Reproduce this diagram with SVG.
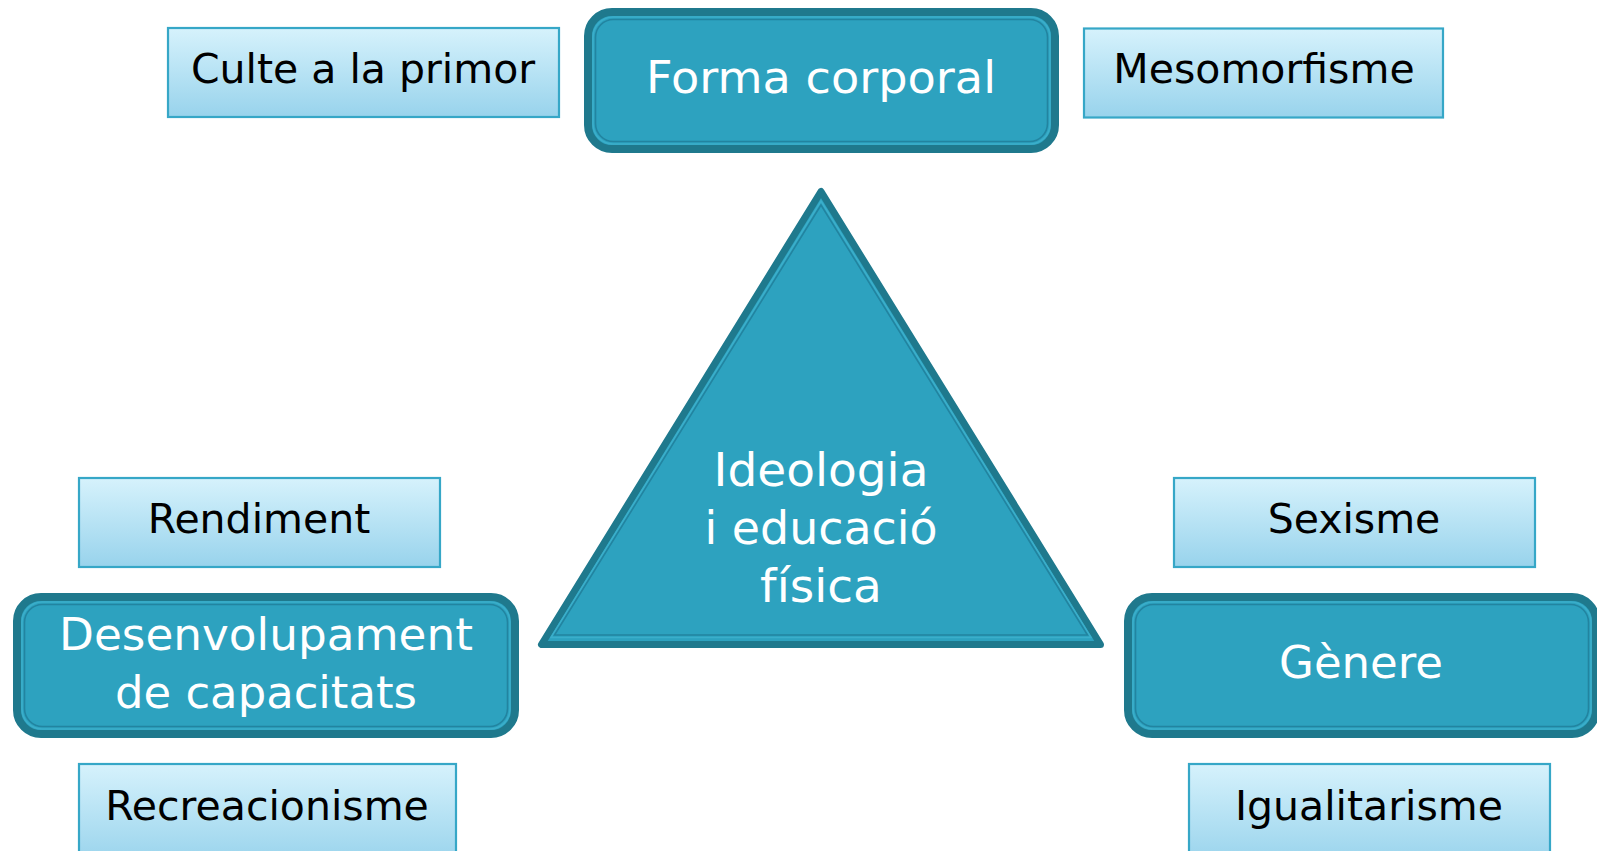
<svg xmlns="http://www.w3.org/2000/svg" width="1597" height="851" viewBox="0 0 1597 851">
<defs>
<linearGradient id="lg" x1="0" y1="0" x2="0" y2="1">
<stop offset="0" stop-color="#D6F2FC"/>
<stop offset="1" stop-color="#98D3EC"/>
</linearGradient>
<style>
.light{fill:url(#lg);stroke:#36A7C7;stroke-width:2.2}
.lt{font-family:"DejaVu Sans",Verdana,sans-serif;font-size:41px;fill:#000;text-anchor:middle}
.dark{fill:#2DA2BF;stroke:#1F798D;stroke-width:8}
.band{fill:none;stroke:#3BAECA;stroke-width:1.6}
.inner{fill:none;stroke:#2284A0;stroke-width:1.6}
.dt{font-family:"DejaVu Sans",Verdana,sans-serif;font-size:45px;fill:#FFFFFF;text-anchor:middle}
</style>
</defs>
<rect width="1597" height="851" fill="#FFFFFF"/>
<g id="connectors"></g>

<g id="node-center">
<polygon points="821,191.5 541.5,644.5 1100.5,644.5" fill="#2DA2BF" stroke="#1F798D" stroke-width="7" stroke-linejoin="round"/>
<polygon points="821,201 551,637.5 1091,637.5" class="band"/>
<polygon points="821,205 554.5,635 1087.5,635" class="inner"/>
<text class="dt" style="font-size:47px" x="821" y="486">Ideologia</text>
<text class="dt" style="font-size:47px" x="821" y="544" textLength="233" lengthAdjust="spacingAndGlyphs">i educació</text>
<text class="dt" style="font-size:47px" x="821" y="602">física</text>
</g>

<g id="node-forma">
<rect class="dark" x="588" y="12" width="467" height="137" rx="24"/>
<rect class="band" x="593" y="17" width="457" height="127" rx="20"/>
<rect class="inner" x="595.5" y="19.5" width="452" height="122" rx="18"/>
<text class="dt" x="821" y="93" textLength="350" lengthAdjust="spacingAndGlyphs">Forma corporal</text>
</g>

<g id="node-desenvolupament">
<rect class="dark" x="17" y="597" width="498" height="137" rx="24"/>
<rect class="band" x="22" y="602" width="488" height="127" rx="20"/>
<rect class="inner" x="24.5" y="604.5" width="483" height="122" rx="18"/>
<text class="dt" x="266" y="650" textLength="414" lengthAdjust="spacingAndGlyphs">Desenvolupament</text>
<text class="dt" x="266" y="708" textLength="302" lengthAdjust="spacingAndGlyphs">de capacitats</text>
</g>

<g id="node-genere">
<rect class="dark" x="1128" y="597" width="468" height="137" rx="24"/>
<rect class="band" x="1133" y="602" width="458" height="127" rx="20"/>
<rect class="inner" x="1135.5" y="604.5" width="453" height="122" rx="18"/>
<text class="dt" x="1361" y="678">Gènere</text>
</g>

<g id="node-culte">
<rect class="light" x="168" y="28" width="391" height="89"/>
<text class="lt" x="363" y="82.5">Culte a la primor</text>
</g>

<g id="node-mesomorfisme">
<rect class="light" x="1084" y="28.5" width="359" height="89"/>
<text class="lt" x="1264" y="82.5">Mesomorfisme</text>
</g>

<g id="node-rendiment">
<rect class="light" x="79" y="478" width="361" height="89"/>
<text class="lt" x="259" y="533">Rendiment</text>
</g>

<g id="node-sexisme">
<rect class="light" x="1174" y="478" width="361" height="89"/>
<text class="lt" x="1354" y="533">Sexisme</text>
</g>

<g id="node-recreacionisme">
<rect class="light" x="79" y="764" width="377" height="100"/>
<text class="lt" x="267" y="820">Recreacionisme</text>
</g>

<g id="node-igualitarisme">
<rect class="light" x="1189" y="764" width="361" height="100"/>
<text class="lt" x="1369" y="820">Igualitarisme</text>
</g>
</svg>
